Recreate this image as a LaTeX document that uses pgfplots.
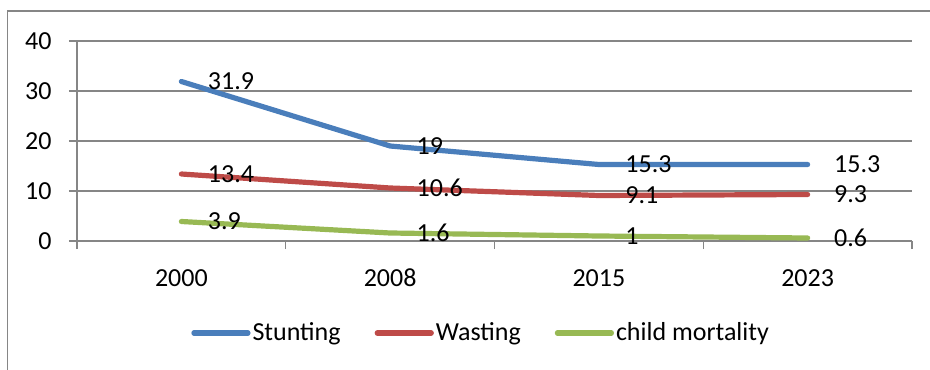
\documentclass[border=0pt]{standalone}
\usepackage{fontspec}
\setmainfont{Carlito}
\usepackage{pgfplots}
\pgfplotsset{compat=1.18}
\definecolor{sblue}{HTML}{4A7EBB}
\definecolor{sred}{HTML}{BE4B48}
\definecolor{sgreen}{HTML}{98B954}
\definecolor{gridc}{HTML}{868686}
\begin{document}
\fontsize{13bp}{15.6bp}\selectfont
\begin{tikzpicture}
\useasboundingbox (0,0) rectangle (465bp,185bp);
\draw[gridc, line width=0.6bp] (3.75bp,-2bp) -- (3.75bp,179.5bp) -- (467bp,179.5bp);
\begin{axis}[
  at={(38.5bp,64.5bp)}, anchor=south west,
  scale only axis, width=417.5bp, height=100bp,
  xmin=-0.5, xmax=3.5, ymin=0, ymax=40,
  axis x line*=bottom, axis y line*=left,
  axis line style={gridc, line width=0.6bp, -},
  tick style={gridc, line width=0.6bp},
  tick align=outside,
  xtick={-0.5,0.5,1.5,2.5,3.5}, xticklabels={},
  extra x ticks={0,1,2,3}, extra x tick labels={2000,2008,2015,2023},
  extra x tick style={major tick length=0pt,
     xticklabel style={anchor=center, inner sep=0pt, yshift=-18.5bp}},
  ytick={0,10,20,30,40}, yticklabels={0,10,20,30,40},
  major tick length=4bp,
  ymajorgrids, grid style={gridc, line width=0.6bp},
  yticklabel style={anchor=east, inner sep=0pt, xshift=-8.5bp},
  every axis plot/.append style={line width=2.6bp, line cap=round, line join=round},
  point meta=explicit symbolic,
  nodes near coords,
  every node near coord/.append style={anchor=west, inner sep=0pt, xshift=12bp, black},
  legend columns=3,
  legend style={at={(0.484,-0.46)}, anchor=center, draw=none, fill=none,
    nodes={inner sep=1bp},
    /tikz/every even column/.append style={column sep=16bp}},
  legend image code/.code={\draw[line width=2.6bp, line cap=round] (0bp,0bp) -- (27bp,0bp);},
  clip=false,
]
\addplot[sblue] coordinates {(0,31.9) [31.9] (1,19) [19] (2,15.3) [15.3] (3,15.3) [15.3]};
\addlegendentry{Stunting}
\addplot[sred] coordinates {(0,13.4) [13.4] (1,10.6) [10.6] (2,9.1) [9.1] (3,9.3) [9.3]};
\addlegendentry{Wasting}
\addplot[sgreen] coordinates {(0,3.9) [3.9] (1,1.6) [1.6] (2,1) [1] (3,0.6) [0.6]};
\addlegendentry{child mortality}
\end{axis}
\end{tikzpicture}
\end{document}
